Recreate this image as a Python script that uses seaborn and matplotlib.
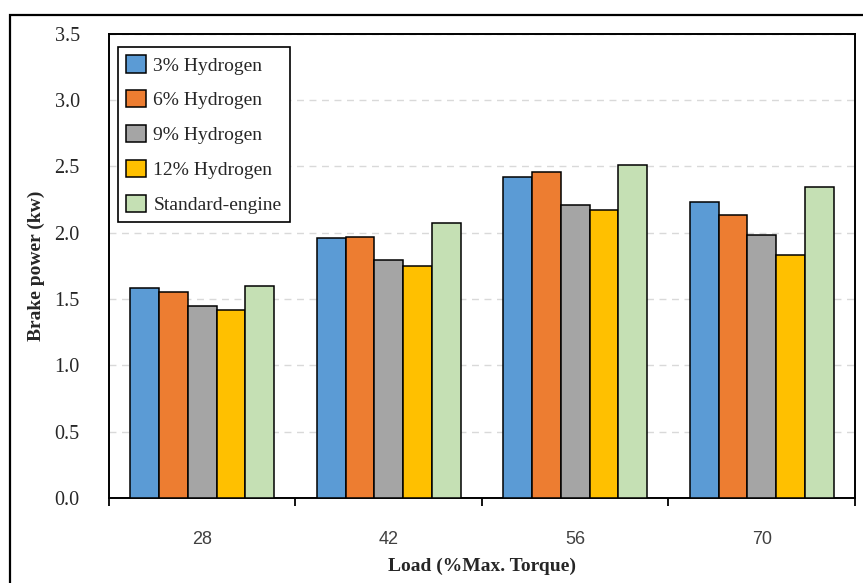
import numpy as np
import pandas as pd
import matplotlib
matplotlib.use("Agg")
import matplotlib.pyplot as plt
import matplotlib.patches as mpatches
from matplotlib.ticker import FixedLocator
import seaborn as sns


loads = ['28', '42', '56', '70']
series = ['3% Hydrogen', '6% Hydrogen', '9% Hydrogen', '12% Hydrogen', 'Standard-engine']

h3 = [1.58, 1.96, 2.42, 2.23]
h6 = [1.55, 1.97, 2.46, 2.13]
h9 = [1.45, 1.79, 2.21, 1.98]
h12 = [1.42, 1.75, 2.17, 1.83]
std = [1.60, 2.07, 2.51, 2.34]

colors = ['#5B9BD5', '#ED7D31', '#A5A5A5', '#FFC000', '#C5E0B4']

rows = []
for name, vals in zip(series, [h3, h6, h9, h12, std]):
    for load, v in zip(loads, vals):
        rows.append({'Load': load, 'Series': name, 'Power': v})
df = pd.DataFrame(rows)

sns.set_style('white')
plt.rcParams['font.family'] = ['Liberation Serif', 'DejaVu Serif']

fig = plt.figure(figsize=(8.63, 5.83), dpi=100)
ax = fig.add_axes([0.1263, 0.1458, 0.9907 - 0.1263, 0.9425 - 0.1458])

sns.barplot(
    data=df,
    x='Load',
    y='Power',
    hue='Series',
    hue_order=series,
    order=loads,
    palette=colors,
    width=0.77,
    edgecolor='black',
    linewidth=1.1,
    saturation=1,
    ax=ax,
    zorder=3
)

ax.set_xlim(-0.5, 3.5)
ax.set_ylim(0, 3.5)
yt = np.arange(0, 3.51, 0.5)
ax.set_yticks(yt)
ax.set_yticklabels([f"{v:.1f}" for v in yt], fontsize=14.5,
                   family=['Liberation Serif', 'DejaVu Serif'])
ax.tick_params(axis='y', length=0, pad=21)

ax.set_xticks(range(len(loads)))
ax.set_xticklabels(loads, fontsize=13, color='#404040', family=['Liberation Sans', 'DejaVu Sans'])
ax.tick_params(axis='x', which='major', length=0, pad=24)
ax.xaxis.set_minor_locator(FixedLocator([-0.5, 0.5, 1.5, 2.5, 3.5]))
ax.tick_params(axis='x', which='minor', length=6, width=1.3, color='black', direction='out', bottom=True)

ax.yaxis.grid(True, linestyle=(0, (5, 4)), color='#D9D9D9', linewidth=1, zorder=0)
ax.xaxis.grid(False)
ax.set_axisbelow(True)

for s in ax.spines.values():
    s.set_visible(True)
    s.set_color('black')
    s.set_linewidth(1.4)

ax.set_xlabel('Load (%Max. Torque)', fontsize=14, fontweight='bold')
ax.set_ylabel('Brake power (kw)', fontsize=14, fontweight='bold')
ax.xaxis.set_label_coords(0.5, -0.128)
ax.yaxis.set_label_coords(-0.086, 0.5)

handles = [mpatches.Patch(facecolor=c, edgecolor='black', linewidth=1.1) for c in colors]
leg = ax.legend(
    handles,
    series,
    loc='upper left',
    bbox_to_anchor=(0.012, 0.971),
    borderaxespad=0,
    fontsize=14,
    frameon=True,
    fancybox=False,
    framealpha=1,
    edgecolor='black',
    handlelength=1.0,
    handleheight=1.0,
    handletextpad=0.4,
    labelspacing=0.8,
    borderpad=0.42
)
leg.get_frame().set_linewidth(1.2)

border = mpatches.Rectangle(
    (9.5 / 863, -0.1), 1.2, 0.1 + 1 - 15 / 583,
    transform=fig.transFigure, fill=False, edgecolor='black', linewidth=1.6
)
fig.patches.append(border)

fig.savefig('out.png', dpi=100)
